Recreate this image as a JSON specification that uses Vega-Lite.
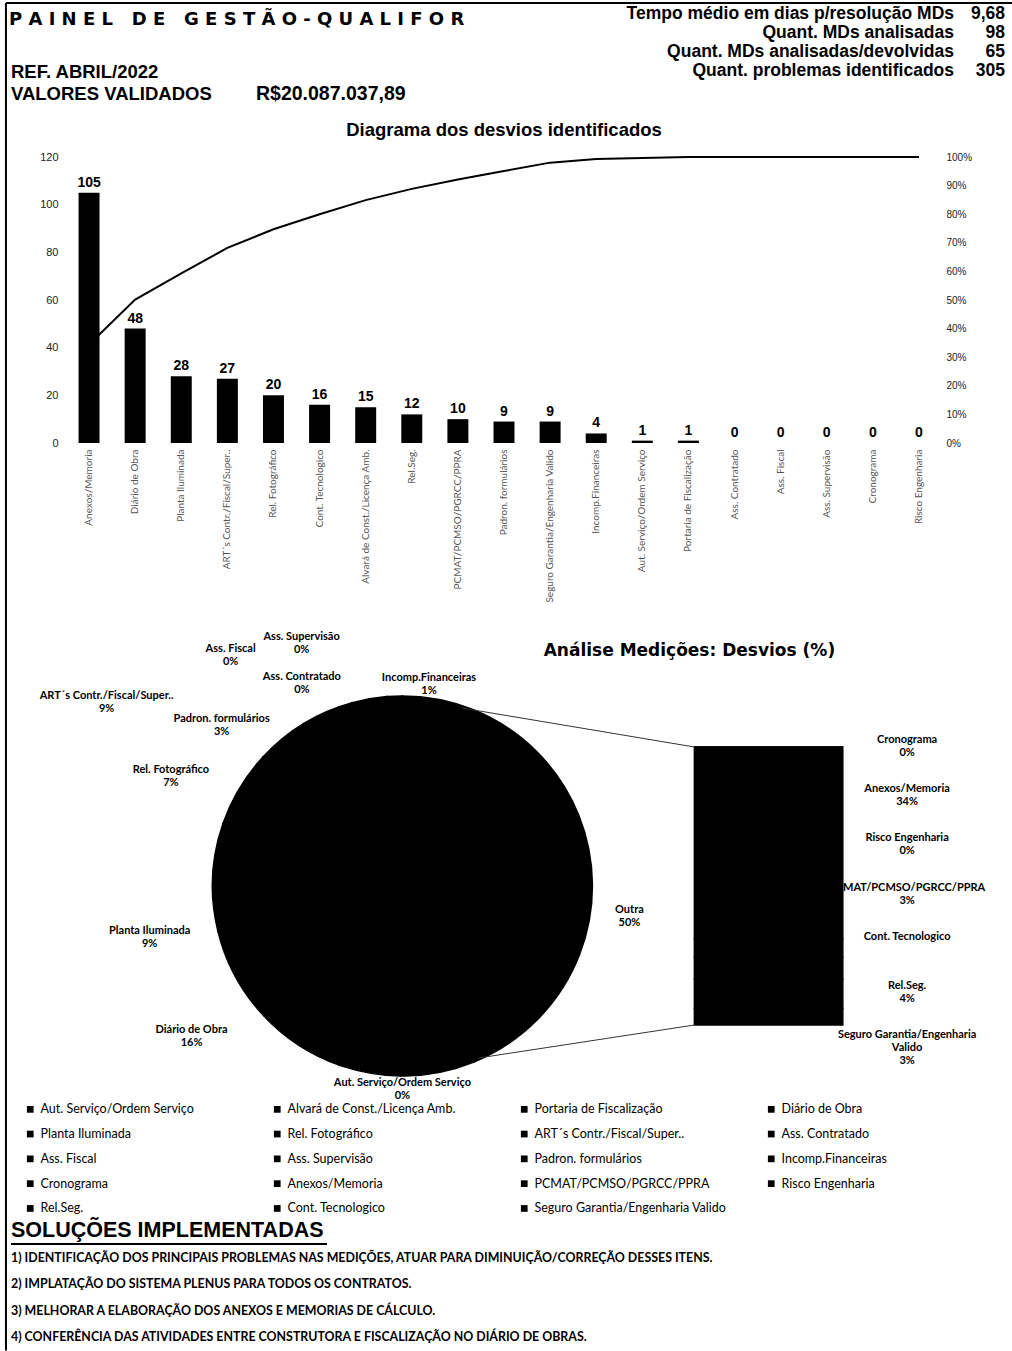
{
  "$schema": "https://vega.github.io/schema/vega-lite/v6.json",
  "padding": {"left": 4, "top": 2, "right": 0, "bottom": 0},
  "bounds": "flush",
  "spacing": 0,
  "background": "white",
  "config": {
    "view": {"stroke": null},
    "font": "Liberation Sans",
    "text": {"font": "Lato", "fontWeight": "bold", "fontSize": 11, "lineBreak": "\n", "color": "black", "align": "center", "baseline": "middle"}
  },
  "datasets": {
    "stats": [
      {"k": "Tempo médio em dias p/resolução MDs", "v": "9,68"},
      {"k": "Quant. MDs analisadas", "v": "98"},
      {"k": "Quant. MDs analisadas/devolvidas", "v": "65"},
      {"k": "Quant. problemas identificados", "v": "305"}
    ],
    "pareto": [
      {"cat": "Anexos/Memoria", "n": 105, "cum": 0.3443},
      {"cat": "Diário de Obra", "n": 48, "cum": 0.5016},
      {"cat": "Planta Iluminada", "n": 28, "cum": 0.5934},
      {"cat": "ART´s Contr./Fiscal/Super..", "n": 27, "cum": 0.682},
      {"cat": "Rel. Fotográfico", "n": 20, "cum": 0.7475},
      {"cat": "Cont. Tecnologico", "n": 16, "cum": 0.8},
      {"cat": "Alvará de Const./Licença Amb.", "n": 15, "cum": 0.8492},
      {"cat": "Rel.Seg.", "n": 12, "cum": 0.8885},
      {"cat": "PCMAT/PCMSO/PGRCC/PPRA", "n": 10, "cum": 0.9213},
      {"cat": "Padron. formulários", "n": 9, "cum": 0.9508},
      {"cat": "Seguro Garantia/Engenharia Valido", "n": 9, "cum": 0.9803},
      {"cat": "Incomp.Financeiras", "n": 4, "cum": 0.9934},
      {"cat": "Aut. Serviço/Ordem Serviço", "n": 1, "cum": 0.9967},
      {"cat": "Portaria de Fiscalização", "n": 1, "cum": 1},
      {"cat": "Ass. Contratado", "n": 0, "cum": 1},
      {"cat": "Ass. Fiscal", "n": 0, "cum": 1},
      {"cat": "Ass. Supervisão", "n": 0, "cum": 1},
      {"cat": "Cronograma", "n": 0, "cum": 1},
      {"cat": "Risco Engenharia", "n": 0, "cum": 1}
    ],
    "pie": [
      {"cat": "Outra", "n": 152, "pct": "50%", "ord": 0},
      {"cat": "Aut. Serviço/Ordem Serviço", "n": 1, "pct": "0%", "ord": 1},
      {"cat": "Alvará de Const./Licença Amb.", "n": 15, "pct": "5%", "ord": 2},
      {"cat": "Portaria de Fiscalização", "n": 1, "pct": "0%", "ord": 3},
      {"cat": "Diário de Obra", "n": 48, "pct": "16%", "ord": 4},
      {"cat": "Planta Iluminada", "n": 28, "pct": "9%", "ord": 5},
      {"cat": "Rel. Fotográfico", "n": 20, "pct": "7%", "ord": 6},
      {"cat": "ART´s Contr./Fiscal/Super..", "n": 27, "pct": "9%", "ord": 7},
      {"cat": "Ass. Contratado", "n": 0, "pct": "0%", "ord": 8},
      {"cat": "Ass. Fiscal", "n": 0, "pct": "0%", "ord": 9},
      {"cat": "Ass. Supervisão", "n": 0, "pct": "0%", "ord": 10},
      {"cat": "Padron. formulários", "n": 9, "pct": "3%", "ord": 11},
      {"cat": "Incomp.Financeiras", "n": 4, "pct": "1%", "ord": 12}
    ],
    "sec": [
      {"cat": "Cronograma", "n": 0, "pct": "0%", "ord": 13},
      {"cat": "Anexos/Memoria", "n": 105, "pct": "34%", "ord": 14},
      {"cat": "PCMAT/PCMSO/PGRCC/PPRA", "n": 10, "pct": "3%", "ord": 15},
      {"cat": "Risco Engenharia", "n": 0, "pct": "0%", "ord": 16},
      {"cat": "Rel.Seg.", "n": 12, "pct": "4%", "ord": 17},
      {"cat": "Cont. Tecnologico", "n": 16, "pct": "", "ord": 18},
      {"cat": "Seguro Garantia/Engenharia Valido", "n": 9, "pct": "3%", "ord": 19}
    ],
    "sol": [
      {"t": "1) IDENTIFICAÇÃO DOS PRINCIPAIS PROBLEMAS NAS MEDIÇÕES, ATUAR PARA DIMINUIÇÃO/CORREÇÃO DESSES ITENS."},
      {"t": "2) IMPLATAÇÃO DO SISTEMA PLENUS PARA TODOS OS CONTRATOS."},
      {"t": "3) MELHORAR A ELABORAÇÃO DOS ANEXOS E MEMORIAS DE CÁLCULO."},
      {"t": "4) CONFERÊNCIA DAS ATIVIDADES ENTRE CONSTRUTORA E FISCALIZAÇÃO NO DIÁRIO DE OBRAS."}
    ]
  },
  "vconcat": [
    {
      "width": 947,
      "height": 154,
      "layer": [
        {
          "data": {"values": [{}]},
          "mark": {"type": "rule", "color": "black", "strokeWidth": 2},
          "encoding": {
            "x": {"datum": -6.34, "type": "quantitative", "scale": {"domain": [0, 100], "nice": false}, "axis": null},
            "x2": {"datum": 100},
            "y": {"datum": 0, "type": "quantitative", "scale": {"domain": [0, 100], "nice": false, "reverse": true}, "axis": null}
          }
        },
        {
          "data": {"values": [{}]},
          "mark": {"type": "rule", "color": "black", "strokeWidth": 2},
          "encoding": {
            "x": {"datum": -6.34, "type": "quantitative", "axis": null},
            "y": {"datum": 0, "type": "quantitative", "scale": {"domain": [0, 100], "nice": false, "reverse": true}, "axis": null},
            "y2": {"datum": 875}
          }
        },
        {
          "data": {"values": [{"t": "P A I N E L\u00a0\u00a0\u00a0D E\u00a0\u00a0\u00a0G E S T Ã O - Q U A L I F O R"}]},
          "mark": {"type": "text", "align": "left", "font": "DejaVu Sans", "fontWeight": "bold", "fontSize": 18},
          "encoding": {
            "x": {"datum": -6.02, "type": "quantitative", "axis": null},
            "y": {"datum": 11.04, "type": "quantitative", "scale": {"domain": [0, 100], "nice": false, "reverse": true}, "axis": null},
            "text": {"field": "t"}
          }
        },
        {
          "data": {"values": [{"t": "REF. ABRIL/2022"}]},
          "mark": {"type": "text", "align": "left", "font": "Liberation Sans", "fontWeight": "bold", "fontSize": 18.5},
          "encoding": {
            "x": {"datum": -5.81, "type": "quantitative", "axis": null},
            "y": {"datum": 44.8, "type": "quantitative", "scale": {"domain": [0, 100], "nice": false, "reverse": true}, "axis": null},
            "text": {"field": "t"}
          }
        },
        {
          "data": {"values": [{"t": "VALORES VALIDADOS"}]},
          "mark": {"type": "text", "align": "left", "font": "Liberation Sans", "fontWeight": "bold", "fontSize": 18.5},
          "encoding": {
            "x": {"datum": -5.81, "type": "quantitative", "axis": null},
            "y": {"datum": 59.09, "type": "quantitative", "scale": {"domain": [0, 100], "nice": false, "reverse": true}, "axis": null},
            "text": {"field": "t"}
          }
        },
        {
          "data": {"values": [{"t": "R$20.087.037,89"}]},
          "mark": {"type": "text", "align": "left", "font": "Liberation Sans", "fontWeight": "bold", "fontSize": 19.5},
          "encoding": {
            "x": {"datum": 20.06, "type": "quantitative", "axis": null},
            "y": {"datum": 59.09, "type": "quantitative", "scale": {"domain": [0, 100], "nice": false, "reverse": true}, "axis": null},
            "text": {"field": "t"}
          }
        },
        {
          "data": {"name": "stats"},
          "encoding": {
            "y": {"field": "k", "type": "nominal", "sort": null, "scale": {"type": "point", "padding": 0, "range": [11, 67.5]}, "axis": null}
          },
          "layer": [
            {
              "mark": {"type": "text", "align": "right", "font": "Liberation Sans", "fontWeight": "bold", "fontSize": 17.5},
              "encoding": {"x": {"datum": 93.77, "type": "quantitative", "axis": null}, "text": {"field": "k"}}
            },
            {
              "mark": {"type": "text", "align": "right", "font": "Liberation Sans", "fontWeight": "bold", "fontSize": 17.5},
              "encoding": {"x": {"datum": 99.16, "type": "quantitative", "axis": null}, "text": {"field": "v"}}
            }
          ]
        }
      ],
      "resolve": {"scale": {"y": "independent"}}
    },
    {
      "width": 876,
      "height": 286,
      "data": {"name": "pareto"},
      "title": {"text": "Diagrama dos desvios identificados", "font": "Liberation Sans", "fontSize": 18.5, "fontWeight": "bold", "color": "black", "offset": 12},
      "encoding": {
        "x": {
          "field": "cat", "type": "nominal", "sort": null,
          "scale": {"paddingInner": 0.545},
          "axis": {"title": null, "labelAngle": -90, "labelFont": "Lato", "labelFontSize": 10, "labelColor": "#555555", "ticks": false, "domain": false, "labelPadding": 6, "labelOverlap": false, "labelLimit": 300}
        }
      },
      "layer": [
        {
          "mark": {"type": "bar", "color": "black"},
          "encoding": {
            "y": {
              "field": "n", "type": "quantitative",
              "scale": {"domain": [0, 120], "nice": false},
              "axis": {"orient": "left", "title": null, "values": [0, 20, 40, 60, 80, 100, 120], "ticks": false, "domain": false, "grid": false, "labelFont": "Liberation Sans", "labelFontSize": 11, "labelColor": "#222222", "labelPadding": 8}
            }
          }
        },
        {
          "mark": {"type": "text", "baseline": "bottom", "dy": -3, "font": "Liberation Sans", "fontWeight": "bold", "fontSize": 14},
          "encoding": {
            "y": {"field": "n", "type": "quantitative", "scale": {"domain": [0, 120], "nice": false}, "axis": null},
            "text": {"field": "n", "type": "quantitative"}
          }
        },
        {
          "mark": {"type": "line", "color": "black", "strokeWidth": 2},
          "encoding": {
            "y": {
              "field": "cum", "type": "quantitative",
              "scale": {"domain": [0, 1], "nice": false},
              "axis": {"orient": "right", "title": null, "format": ".0%", "values": [0, 0.1, 0.2, 0.3, 0.4, 0.5, 0.6, 0.7, 0.8, 0.9, 1], "ticks": false, "domain": false, "grid": false, "labelFont": "Liberation Sans", "labelFontSize": 10, "labelColor": "#222222", "labelPadding": 4}
            }
          }
        }
      ],
      "resolve": {"scale": {"y": "independent"}}
    },
    {
      "width": 947,
      "height": 772,
      "layer": [
        {
          "data": {"name": "pie"},
          "mark": {"type": "arc", "radius": 190, "color": "black", "stroke": "black", "strokeWidth": 1.5},
          "encoding": {
            "theta": {"field": "n", "type": "quantitative", "stack": true},
            "order": {"field": "ord", "type": "quantitative"},
            "x": {"datum": 35.37, "type": "quantitative", "scale": {"domain": [0, 100], "nice": false}, "axis": null},
            "y": {"datum": 57.38, "type": "quantitative", "scale": {"domain": [0, 100], "nice": false, "reverse": true}, "axis": null}
          }
        },
        {
          "data": {"name": "pie"},
          "transform": [
            {"window": [{"op": "sum", "field": "n", "as": "cumn"}], "sort": [{"field": "ord"}], "frame": [null, 0]},
            {"calculate": "datum.cumn - datum.n / 2", "as": "mid"},
            {"calculate": "datum.cat + '\\n' + datum.pct", "as": "lbl"}
          ],
          "encoding": {
            "theta": {"field": "mid", "type": "quantitative", "stack": null},
            "x": {"datum": 35.37, "type": "quantitative", "axis": null},
            "y": {"datum": 57.38, "type": "quantitative", "scale": {"domain": [0, 100], "nice": false, "reverse": true}, "axis": null},
            "text": {"field": "lbl"}
          },
          "layer": [
            {"transform": [{"filter": "datum.cat === 'Outra'"}], "mark": {"type": "text", "radius": 227, "dx": 0, "dy": 25}},
            {"transform": [{"filter": "datum.cat === 'Aut. Serviço/Ordem Serviço'"}], "mark": {"type": "text", "radius": 201, "dx": 0, "dy": -4}},
            {"transform": [{"filter": "datum.cat === 'Diário de Obra'"}], "mark": {"type": "text", "radius": 259, "dx": -19, "dy": -30}},
            {"transform": [{"filter": "datum.cat === 'Planta Iluminada'"}], "mark": {"type": "text", "radius": 258, "dx": 5, "dy": 57}},
            {"transform": [{"filter": "datum.cat === 'Rel. Fotográfico'"}], "mark": {"type": "text", "radius": 256, "dx": -12, "dy": 16}},
            {"transform": [{"filter": "datum.cat === 'ART´s Contr./Fiscal/Super..'"}], "mark": {"type": "text", "radius": 300, "dx": -140, "dy": 66}},
            {"transform": [{"filter": "datum.cat === 'Ass. Contratado'"}], "mark": {"type": "text", "radius": 225, "dx": -41, "dy": 8}},
            {"transform": [{"filter": "datum.cat === 'Ass. Fiscal'"}], "mark": {"type": "text", "radius": 260, "dx": -103, "dy": 14}},
            {"transform": [{"filter": "datum.cat === 'Ass. Supervisão'"}], "mark": {"type": "text", "radius": 260, "dx": -32, "dy": 2}},
            {"transform": [{"filter": "datum.cat === 'Padron. formulários'"}], "mark": {"type": "text", "radius": 240, "dx": -139, "dy": 69}},
            {"transform": [{"filter": "datum.cat === 'Incomp.Financeiras'"}], "mark": {"type": "text", "radius": 204, "dx": 35, "dy": -4}}
          ]
        },
        {
          "data": {"name": "sec"},
          "mark": {"type": "bar", "orient": "vertical", "stroke": "black", "strokeWidth": 1.5},
          "encoding": {
            "x": {"datum": 66.53, "type": "quantitative", "axis": null},
            "x2": {"datum": 82.37},
            "y": {"field": "n", "type": "quantitative", "stack": true, "scale": {"domain": [-103.9, 318.2], "nice": false, "zero": false}, "axis": null},
            "order": {"field": "ord", "type": "quantitative", "sort": "descending"},
            "color": {
              "field": "cat", "type": "nominal",
              "scale": {
                "domain": ["Aut. Serviço/Ordem Serviço", "Alvará de Const./Licença Amb.", "Portaria de Fiscalização", "Diário de Obra", "Planta Iluminada", "Rel. Fotográfico", "ART´s Contr./Fiscal/Super..", "Ass. Contratado", "Ass. Fiscal", "Ass. Supervisão", "Padron. formulários", "Incomp.Financeiras", "Cronograma", "Anexos/Memoria", "PCMAT/PCMSO/PGRCC/PPRA", "Risco Engenharia", "Rel.Seg.", "Cont. Tecnologico", "Seguro Garantia/Engenharia Valido"],
                "range": ["#000000"]
              },
              "legend": {"orient": "none", "direction": "horizontal", "legendX": -42, "legendY": 1100, "columns": 4, "title": null, "symbolType": "square", "symbolSize": 45, "symbolStrokeWidth": 0, "labelFont": "Lato", "labelFontSize": 12.5, "labelColor": "black", "rowPadding": 11.8, "columnPadding": 38, "gridAlign": "all", "labelLimit": 300, "labelOffset": 4}
            }
          }
        },
        {
          "data": {"name": "sec"},
          "transform": [{"calculate": "replace(datum.cat, 'Engenharia Valido', 'Engenharia\\nValido') + '\\n' + datum.pct", "as": "lbl"}],
          "mark": {"type": "text"},
          "encoding": {
            "x": {"datum": 89.23, "type": "quantitative", "axis": null},
            "y": {"field": "cat", "type": "nominal", "sort": ["Cronograma", "Anexos/Memoria", "Risco Engenharia", "PCMAT/PCMSO/PGRCC/PPRA", "Cont. Tecnologico", "Rel.Seg.", "Seguro Garantia/Engenharia Valido"], "scale": {"type": "point", "padding": 0, "range": [297, 592]}, "axis": null},
            "text": {"field": "lbl"}
          }
        },
        {
          "data": {"values": [{}]},
          "mark": {"type": "rule", "color": "#333333", "strokeWidth": 1},
          "encoding": {
            "x": {"datum": 41.71, "type": "quantitative", "axis": null},
            "x2": {"datum": 66.53},
            "y": {"datum": 34.33, "type": "quantitative", "scale": {"domain": [0, 100], "nice": false, "reverse": true}, "axis": null},
            "y2": {"datum": 39.38}
          }
        },
        {
          "data": {"values": [{}]},
          "mark": {"type": "rule", "color": "#333333", "strokeWidth": 1},
          "encoding": {
            "x": {"datum": 43.51, "type": "quantitative", "axis": null},
            "x2": {"datum": 66.53},
            "y": {"datum": 79.66, "type": "quantitative", "scale": {"domain": [0, 100], "nice": false, "reverse": true}, "axis": null},
            "y2": {"datum": 75.39}
          }
        },
        {
          "data": {"values": [{"t": "Análise Medições: Desvios (%)"}]},
          "mark": {"type": "text", "font": "DejaVu Sans", "fontWeight": "bold", "fontSize": 17},
          "encoding": {
            "x": {"datum": 66.0, "type": "quantitative", "axis": null},
            "y": {"datum": 26.94, "type": "quantitative", "scale": {"domain": [0, 100], "nice": false, "reverse": true}, "axis": null},
            "text": {"field": "t"}
          }
        }
      ],
      "resolve": {"scale": {"y": "independent"}}
    },
    {
      "width": 947,
      "height": 136,
      "layer": [
        {
          "data": {"values": [{"t": "SOLUÇÕES IMPLEMENTADAS"}]},
          "mark": {"type": "text", "align": "left", "font": "Liberation Sans", "fontWeight": "bold", "fontSize": 21.5},
          "encoding": {
            "x": {"datum": -5.81, "type": "quantitative", "scale": {"domain": [0, 100], "nice": false}, "axis": null},
            "y": {"datum": 11.76, "type": "quantitative", "scale": {"domain": [0, 100], "nice": false, "reverse": true}, "axis": null},
            "text": {"field": "t"}
          }
        },
        {
          "data": {"values": [{}]},
          "mark": {"type": "rule", "color": "black", "strokeWidth": 2},
          "encoding": {
            "x": {"datum": -5.81, "type": "quantitative", "axis": null},
            "x2": {"datum": 27.56},
            "y": {"datum": 21.3, "type": "quantitative", "scale": {"domain": [0, 100], "nice": false, "reverse": true}, "axis": null}
          }
        },
        {
          "data": {"name": "sol"},
          "mark": {"type": "text", "align": "left", "fontSize": 12.4},
          "encoding": {
            "x": {"datum": -5.81, "type": "quantitative", "axis": null},
            "y": {"field": "t", "type": "nominal", "sort": null, "scale": {"type": "point", "padding": 0, "range": [43, 122]}, "axis": null},
            "text": {"field": "t"}
          }
        }
      ],
      "resolve": {"scale": {"y": "independent"}}
    }
  ]
}
